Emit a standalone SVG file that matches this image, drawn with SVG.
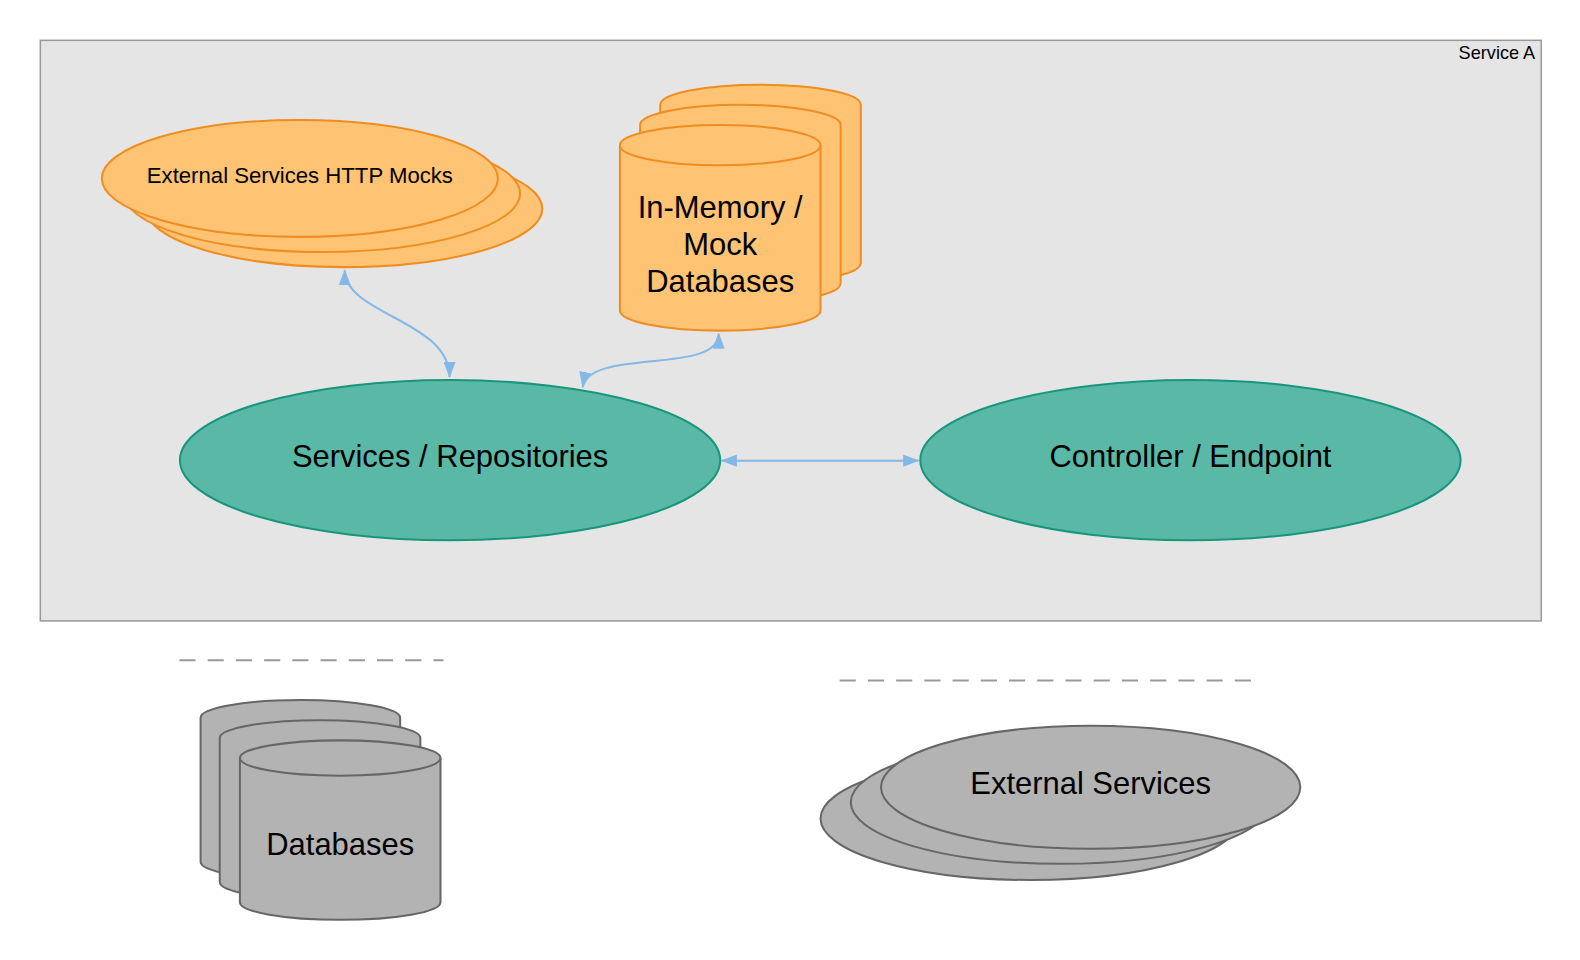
<svg xmlns="http://www.w3.org/2000/svg" width="1580" height="960" viewBox="0 0 1580 960">
<style>
.t{font-family:"Liberation Sans",Arial,sans-serif;fill:#000;text-anchor:middle}
.or{fill:#FFC374;stroke:#EF8D22;stroke-width:2}
.tl{fill:#5AB9A6;stroke:#18967C;stroke-width:2}
.gr{fill:#B3B3B3;stroke:#666;stroke-width:2}
.cn{fill:none;stroke:#84B8E7;stroke-width:2}
.ds{stroke:#999;stroke-width:2;stroke-dasharray:16 12}
</style>
<defs>
<marker id="ah" viewBox="0 0 16 12" refX="15" refY="6" markerWidth="16" markerHeight="12" markerUnits="userSpaceOnUse" orient="auto-start-reverse">
<path d="M0,0 L16,6 L0,12 Z" fill="#84B8E7"/>
</marker>
</defs>
<rect width="1580" height="960" fill="#fff"/>
<g transform="scale(1.008)">
<g id="service-a">
<rect x="40" y="40" width="1489" height="576" fill="#E5E5E5" stroke="#999" stroke-width="1.5"/>
<text class="t" x="1523" y="59" font-size="18" style="text-anchor:end">Service A</text>
</g>
<g id="http-mocks">
<ellipse class="or" cx="341.5" cy="207" rx="196.5" ry="58"/>
<ellipse class="or" cx="319.5" cy="192" rx="196.5" ry="58"/>
<ellipse class="or" cx="297.5" cy="177" rx="196.5" ry="58"/>
<text class="t" x="297.5" y="182" font-size="22">External Services HTTP Mocks</text>
</g>
<g id="mock-dbs">
<path class="or" d="M655,104 A99.5,20 0 0 1 854,104 V261 A99.5,20 0 0 1 655,261 Z"/>
<path class="or" d="M635,124 A99.5,20 0 0 1 834,124 V281 A99.5,20 0 0 1 635,281 Z"/>
<path class="or" d="M615,144 A99.5,20 0 0 1 814,144 V308 A99.5,20 0 0 1 615,308 Z"/>
<path d="M615,144 A99.5,20 0 0 0 814,144" fill="none" stroke="#EF8D22" stroke-width="2"/>
<text class="t" x="714.5" y="216" font-size="30.7">In-Memory /</text>
<text class="t" x="714.5" y="253" font-size="30.7">Mock</text>
<text class="t" x="714.5" y="290" font-size="30.7">Databases</text>
</g>
<g id="services-repositories">
<ellipse class="tl" cx="446.5" cy="456.5" rx="268" ry="79.5"/>
<text class="t" x="446.5" y="463" font-size="30.7">Services / Repositories</text>
</g>
<g id="controller-endpoint">
<ellipse class="tl" cx="1181" cy="456.5" rx="268" ry="79.5"/>
<text class="t" x="1181" y="463" font-size="30.7">Controller / Endpoint</text>
</g>
<g id="connectors">
<path class="cn" d="M342,268 C342,312 446,318 446,374" marker-start="url(#ah)" marker-end="url(#ah)"/>
<path class="cn" d="M713,331 C713,372 585,345 578,384" marker-start="url(#ah)" marker-end="url(#ah)"/>
<path class="cn" d="M716,457 H911" marker-start="url(#ah)" marker-end="url(#ah)"/>
</g>
<g id="separators">
<line class="ds" x1="178" y1="655" x2="440" y2="655"/>
<line class="ds" x1="833" y1="675" x2="1252" y2="675"/>
</g>
<g id="databases">
<path class="gr" d="M199,712 A99,17.5 0 0 1 397,712 V855 A99,17.5 0 0 1 199,855 Z"/>
<path class="gr" d="M218,732 A99.5,17.5 0 0 1 417,732 V875 A99.5,17.5 0 0 1 218,875 Z"/>
<path class="gr" d="M238,752 A99.5,17.5 0 0 1 437,752 V895 A99.5,17.5 0 0 1 238,895 Z"/>
<path d="M238,752 A99.5,17.5 0 0 0 437,752" fill="none" stroke="#666" stroke-width="2"/>
<text class="t" x="337.5" y="848" font-size="30.7">Databases</text>
</g>
<g id="external-services">
<ellipse class="gr" cx="1022" cy="812" rx="208" ry="61"/>
<ellipse class="gr" cx="1052" cy="796" rx="208" ry="61"/>
<ellipse class="gr" cx="1082" cy="781" rx="208" ry="61"/>
<text class="t" x="1082" y="788" font-size="30.7">External Services</text>
</g>
</g>
</svg>
